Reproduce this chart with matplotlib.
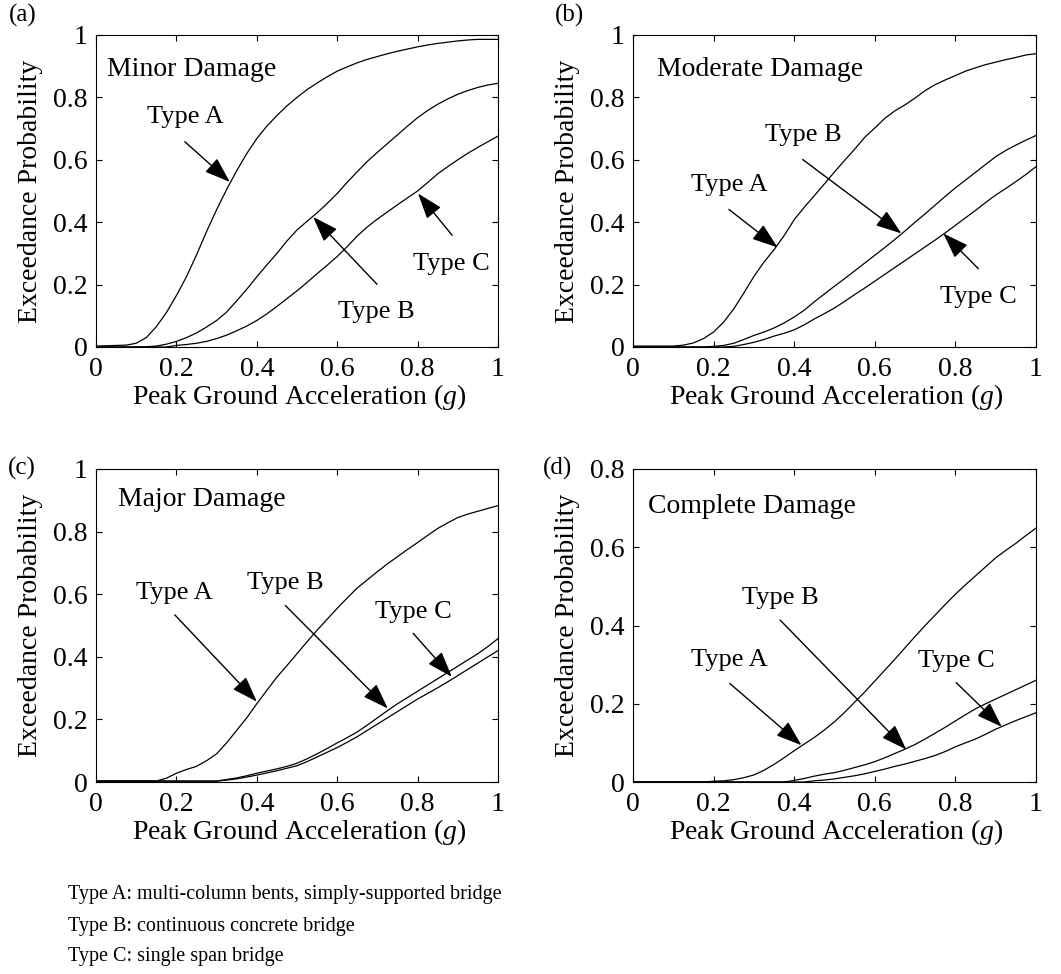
import matplotlib
matplotlib.use("Agg")
from matplotlib import pyplot as plt
from matplotlib.ticker import FuncFormatter

plt.rcParams["font.family"] = ["Liberation Serif", "DejaVu Serif"]
plt.rcParams["mathtext.fontset"] = "custom"
plt.rcParams["mathtext.rm"] = "Liberation Serif"
plt.rcParams["mathtext.it"] = "Liberation Serif:italic"

# peak ground acceleration (g)
pga = [0.000, 0.025, 0.050, 0.075, 0.100, 0.125, 0.150, 0.175, 0.200, 0.225,
       0.250, 0.275, 0.300, 0.325, 0.350, 0.375, 0.400, 0.425, 0.450, 0.475,
       0.500, 0.525, 0.550, 0.575, 0.600, 0.625, 0.650, 0.675, 0.700, 0.725,
       0.750, 0.775, 0.800, 0.825, 0.850, 0.875, 0.900, 0.925, 0.950, 0.975,
       1.000]

# exceedance probability - minor damage
minor_a = [0.003, 0.004, 0.005, 0.006, 0.012, 0.030, 0.065, 0.110, 0.165, 0.225,
           0.295, 0.370, 0.440, 0.505, 0.565, 0.620, 0.668, 0.708, 0.742, 0.773,
           0.800, 0.825, 0.846, 0.866, 0.884, 0.898, 0.911, 0.922, 0.931, 0.940,
           0.948, 0.955, 0.962, 0.968, 0.973, 0.977, 0.981, 0.984, 0.986, 0.986,
           0.986]
minor_b = [0.000, 0.000, 0.000, 0.000, 0.000, 0.001, 0.003, 0.009, 0.018, 0.030,
           0.045, 0.064, 0.085, 0.112, 0.148, 0.185, 0.225, 0.263, 0.300, 0.340,
           0.375, 0.403, 0.430, 0.460, 0.492, 0.528, 0.562, 0.595, 0.624, 0.652,
           0.680, 0.708, 0.735, 0.758, 0.778, 0.795, 0.810, 0.822, 0.832, 0.840,
           0.845]
minor_c = [0.000, 0.000, 0.000, 0.000, 0.000, 0.000, 0.000, 0.000, 0.005, 0.008,
           0.012, 0.018, 0.027, 0.038, 0.052, 0.067, 0.085, 0.106, 0.130, 0.155,
           0.180, 0.207, 0.235, 0.262, 0.290, 0.322, 0.356, 0.385, 0.410, 0.433,
           0.456, 0.478, 0.500, 0.527, 0.555, 0.578, 0.600, 0.621, 0.640, 0.658,
           0.676]

# moderate damage
moderate_a = [0.003, 0.003, 0.003, 0.003, 0.003, 0.006, 0.013, 0.027, 0.048, 0.080,
              0.122, 0.173, 0.226, 0.272, 0.312, 0.357, 0.408, 0.448, 0.485, 0.523,
              0.561, 0.598, 0.634, 0.672, 0.702, 0.733, 0.757, 0.776, 0.798, 0.822,
              0.841, 0.856, 0.870, 0.884, 0.895, 0.905, 0.913, 0.921, 0.928, 0.936,
              0.940]
moderate_b = [0.000, 0.000, 0.000, 0.000, 0.000, 0.000, 0.000, 0.000, 0.002, 0.005,
              0.012, 0.024, 0.037, 0.048, 0.061, 0.077, 0.096, 0.118, 0.145, 0.170,
              0.195, 0.219, 0.244, 0.269, 0.294, 0.319, 0.345, 0.372, 0.400, 0.427,
              0.455, 0.483, 0.510, 0.535, 0.560, 0.585, 0.610, 0.630, 0.647, 0.663,
              0.678]
moderate_c = [0.000, 0.000, 0.000, 0.000, 0.000, 0.000, 0.000, 0.000, 0.000, 0.000,
              0.002, 0.008, 0.015, 0.024, 0.035, 0.044, 0.055, 0.071, 0.090, 0.107,
              0.125, 0.146, 0.168, 0.189, 0.211, 0.233, 0.255, 0.277, 0.299, 0.321,
              0.343, 0.366, 0.390, 0.414, 0.438, 0.463, 0.487, 0.508, 0.530, 0.553,
              0.578]

# major damage
major_a = [0.003, 0.003, 0.003, 0.003, 0.003, 0.003, 0.003, 0.012, 0.028, 0.040,
           0.050, 0.068, 0.090, 0.125, 0.165, 0.205, 0.250, 0.293, 0.335, 0.372,
           0.410, 0.448, 0.485, 0.520, 0.555, 0.588, 0.620, 0.646, 0.672, 0.697,
           0.720, 0.743, 0.765, 0.788, 0.810, 0.828, 0.845, 0.856, 0.865, 0.874,
           0.883]
major_b = [0.003, 0.003, 0.003, 0.003, 0.003, 0.003, 0.003, 0.003, 0.003, 0.003,
           0.003, 0.003, 0.003, 0.008, 0.013, 0.020, 0.028, 0.035, 0.042, 0.050,
           0.060, 0.074, 0.090, 0.107, 0.125, 0.142, 0.160, 0.182, 0.205, 0.228,
           0.250, 0.270, 0.290, 0.310, 0.330, 0.350, 0.370, 0.390, 0.410, 0.433,
           0.458]
major_c = [0.003, 0.003, 0.003, 0.003, 0.003, 0.003, 0.003, 0.003, 0.003, 0.003,
           0.003, 0.003, 0.003, 0.006, 0.010, 0.016, 0.022, 0.029, 0.036, 0.044,
           0.052, 0.065, 0.080, 0.095, 0.110, 0.127, 0.145, 0.165, 0.185, 0.205,
           0.225, 0.245, 0.265, 0.283, 0.301, 0.320, 0.340, 0.360, 0.380, 0.400,
           0.420]

# complete damage
complete_a = [0.000, 0.000, 0.000, 0.000, 0.000, 0.000, 0.000, 0.000, 0.002, 0.003,
              0.006, 0.011, 0.018, 0.030, 0.045, 0.062, 0.080, 0.097, 0.114, 0.133,
              0.154, 0.178, 0.204, 0.230, 0.258, 0.286, 0.314, 0.343, 0.372, 0.400,
              0.427, 0.454, 0.480, 0.504, 0.527, 0.550, 0.573, 0.592, 0.610, 0.630,
              0.649]
complete_b = [0.000, 0.000, 0.000, 0.000, 0.000, 0.000, 0.000, 0.000, 0.000, 0.000,
              0.000, 0.000, 0.000, 0.000, 0.000, 0.000, 0.004, 0.009, 0.015, 0.020,
              0.024, 0.030, 0.037, 0.044, 0.052, 0.062, 0.073, 0.084, 0.096, 0.110,
              0.125, 0.140, 0.156, 0.172, 0.187, 0.200, 0.212, 0.224, 0.236, 0.248,
              0.260]
complete_c = [0.000, 0.000, 0.000, 0.000, 0.000, 0.000, 0.000, 0.000, 0.000, 0.000,
              0.000, 0.000, 0.000, 0.000, 0.000, 0.000, 0.000, 0.000, 0.003, 0.005,
              0.008, 0.012, 0.016, 0.021, 0.027, 0.033, 0.040, 0.046, 0.053, 0.060,
              0.068, 0.078, 0.090, 0.100, 0.110, 0.122, 0.135, 0.146, 0.157, 0.167,
              0.177]

panel_letters = ["(a)", "(b)", "(c)", "(d)"]
panel_titles = ["Minor Damage", "Moderate Damage", "Major Damage", "Complete Damage"]
panel_curves = [
    (minor_a, minor_b, minor_c),
    (moderate_a, moderate_b, moderate_c),
    (major_a, major_b, major_c),
    (complete_a, complete_b, complete_c),
]
panel_ymax = [1.0, 1.0, 1.0, 0.8]
type_names = ["Type A", "Type B", "Type C"]

notes = [
    "Type A: multi-column bents, simply-supported bridge",
    "Type B: continuous concrete bridge",
    "Type C: single span bridge",
]

# layout (pixels of a 1061 x 974 figure)
W, H = 1061, 974
axes_px = [(96, 35, 402, 312), (633, 35, 403, 312),
           (96, 469, 402, 313), (633, 469, 403, 313)]
letter_px = [(23, 15), (569, 15), (22, 468), (558, 468)]
title_pos = [(0.027, 0.888), (0.06, 0.888), (0.055, 0.902), (0.037, 0.704)]

# (label position, arrow tail, arrow tip) in data coords, order A, B, C
arrows = [
    [((0.221, 0.737), (0.221, 0.658), (0.333, 0.529)),
     ((0.698, 0.112), (0.699, 0.201), (0.540, 0.417)),
     ((0.884, 0.267), (0.886, 0.358), (0.801, 0.492))],
    [((0.238, 0.519), (0.238, 0.441), (0.359, 0.319)),
     ((0.423, 0.679), (0.421, 0.601), (0.666, 0.364)),
     ((0.857, 0.160), (0.857, 0.251), (0.770, 0.364))],
    [((0.196, 0.603), (0.196, 0.534), (0.400, 0.257)),
     ((0.472, 0.637), (0.471, 0.564), (0.726, 0.235)),
     ((0.789, 0.544), (0.789, 0.475), (0.885, 0.336))],
    [((0.240, 0.312), (0.240, 0.252), (0.418, 0.094)),
     ((0.365, 0.470), (0.365, 0.414), (0.678, 0.083)),
     ((0.802, 0.310), (0.802, 0.254), (0.915, 0.141))],
]

fig = plt.figure(figsize=(W / 100, H / 100), dpi=100)
fmt = FuncFormatter(lambda v, p: f"{v:g}")

for i in range(4):
    x0, y0, w, h = axes_px[i]
    ax = fig.add_axes([x0 / W, 1 - (y0 + h) / H, w / W, h / H])

    for curve in panel_curves[i]:
        ax.plot(pga, curve, color="black", linewidth=0.9)

    ymax = panel_ymax[i]
    ax.set_xlim(0, 1)
    ax.set_ylim(0, ymax)
    ax.set_xticks([0, 0.2, 0.4, 0.6, 0.8, 1.0])
    if ymax < 1:
        ax.set_yticks([0, 0.2, 0.4, 0.6, 0.8])
    else:
        ax.set_yticks([0, 0.2, 0.4, 0.6, 0.8, 1.0])
    ax.xaxis.set_major_formatter(fmt)
    ax.yaxis.set_major_formatter(fmt)
    ax.tick_params(direction="in", top=True, right=True, length=4, width=0.8,
                   labelsize=20)
    ax.tick_params(axis="x", pad=7)
    ax.tick_params(axis="y", pad=6)
    for s in ax.spines.values():
        s.set_linewidth(0.8)

    ax.set_xlabel("Peak Ground Acceleration ($g$)", fontsize=20)
    ax.set_ylabel("Exceedance Probability", fontsize=20)
    ax.xaxis.set_label_coords(0.505, -35 / h)
    ax.yaxis.set_label_coords(-53 / w, 0.5)

    tx, ty = title_pos[i]
    ax.text(tx, ty, panel_titles[i], fontsize=20, ha="left", va="center")

    for name, (lab, tail, tip) in zip(type_names, arrows[i]):
        ax.text(lab[0], lab[1], name, fontsize=19, ha="center", va="center")
        ax.annotate("", xy=tip, xytext=tail,
                    arrowprops=dict(arrowstyle="-|>,head_length=0.8,head_width=0.28",
                                    mutation_scale=20, color="black", lw=1,
                                    shrinkA=0, shrinkB=0))

    lx, ly = letter_px[i]
    fig.text(lx / W, 1 - ly / H, panel_letters[i], fontsize=18,
             ha="center", va="center")

for k, line in enumerate(notes):
    fig.text(68 / W, 1 - (895 + 31 * k) / H, line, fontsize=14.5,
             ha="left", va="center")

fig.savefig("out.png", dpi=100)
